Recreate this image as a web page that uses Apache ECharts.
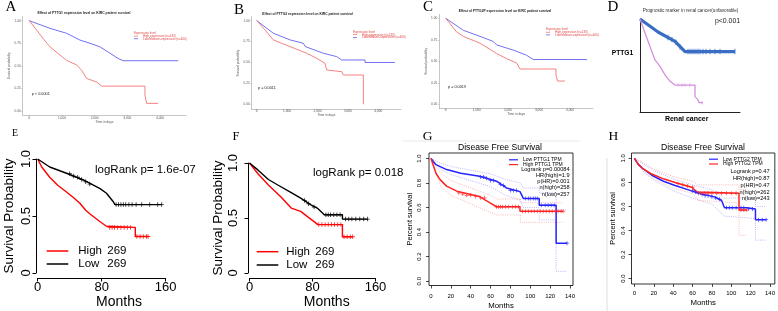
<!DOCTYPE html>
<html>
<head>
<meta charset="utf-8">
<script src="https://cdn.jsdelivr.net/npm/echarts@6/dist/echarts.min.js"></script>
<style>
  html, body { margin: 0; padding: 0; background: #fff; }
  #main { width: 778px; height: 311px; }
</style>
</head>
<body>
<div id="main"></div>
<script>
// ---- data ----
// A-C: days vs survival probability (UALCAN style)
const aLowMed = [[0,1],[633,0.915],[1144,0.86],[1550,0.785],[1856,0.75],[2162,0.71],[2468,0.64],[2722,0.58],[2875,0.556],[4557,0.556]];
const aHigh = [[0,1],[226,0.896],[428,0.80],[633,0.71],[939,0.62],[1144,0.56],[1450,0.51],[1602,0.45],[1755,0.36],[2061,0.32],[2214,0.275],[3538,0.275],[3538,0.176],[3590,0.176],[3590,0.084],[3945,0.084]];
const bLowMed = [[0,1],[547,0.85],[1096,0.77],[1535,0.73],[1600,0.69],[2193,0.61],[2632,0.57],[2796,0.53],[3564,0.53],[3564,0.50],[4549,0.50]];
const bHigh = [[0,1],[274,0.89],[547,0.77],[1096,0.69],[1645,0.61],[1974,0.55],[2247,0.49],[2303,0.41],[2796,0.39],[2850,0.35],[3509,0.35],[3509,0]];
const cLowMed = [[0,1],[566,0.86],[1103,0.79],[1531,0.73],[1640,0.69],[2174,0.63],[2603,0.57],[2817,0.52],[4546,0.52]];
const cHigh = [[0,1],[354,0.84],[566,0.79],[1103,0.71],[1640,0.59],[1961,0.53],[2282,0.48],[2389,0.41],[3547,0.41],[3547,0.34],[3600,0.34],[3600,0.27],[3836,0.27]];
const abcDayTicks = [0, 1000, 2000, 3000, 4000];
const abcSurvTicks = [0, 0.25, 0.5, 0.75, 1];

// D: prognostic marker (no axis scale shown)
const dLow = [[0,1],[18,0.86],[35,0.76],[45,0.65],[95,0.65]];
const dHigh = [[0,1],[5,0.85],[15,0.56],[20,0.49],[25,0.40],[30,0.33],[35,0.29],[55,0.29],[55,0.165],[58,0.13],[59,0.10],[63,0.10]];
const dLowCens = [[28,0.80],[32,0.78],[36,0.75],[40,0.70],[48,0.65],[50,0.65],[52,0.65],[54,0.65],[56,0.65],[58,0.65],[60,0.65],[63,0.65],[66,0.65],[70,0.65],[75,0.65],[80,0.65],[95,0.65]];
const dHighCens = [[38,0.29],[42,0.29],[45,0.29],[50,0.29],[62,0.10]];

// E, F: months vs survival probability
const eHigh = [[0,1],[5,0.93],[15,0.84],[25,0.77],[36,0.71],[45,0.66],[53,0.61],[60,0.55],[65,0.52],[78,0.45],[86,0.41],[88,0.40],[122,0.40],[122,0.32],[138,0.32]];
const eLow = [[0,1],[15,0.93],[36,0.875],[57,0.816],[78,0.74],[86,0.70],[94.5,0.625],[96.6,0.60],[155,0.60]];
const eHighCens = [[90,0.4],[93,0.4],[96,0.4],[100,0.4],[104,0.4],[108,0.4],[112,0.4],[116,0.4],[124,0.32],[128,0.32],[132,0.32],[136,0.32],[138,0.32]];
const eLowCens = [[40,0.87],[45,0.85],[50,0.84],[55,0.82],[60,0.80],[65,0.78],[98,0.6],[101,0.6],[104,0.6],[107,0.6],[110,0.6],[114,0.6],[118,0.6],[123,0.6],[130,0.6],[140,0.6],[150,0.6],[155,0.6]];
const fHigh = [[0,1],[11,0.90],[24,0.80],[40,0.69],[53,0.59],[65,0.56],[74,0.51],[87,0.44],[118,0.44],[118,0.33],[131,0.33]];
const fLow = [[0,1],[11,0.935],[24,0.85],[36,0.80],[53,0.73],[65,0.68],[78,0.62],[86,0.59],[95,0.53],[118,0.53],[118,0.49],[150,0.49]];
const fHighCens = [[88,0.44],[92,0.44],[96,0.44],[100,0.44],[104,0.44],[108,0.44],[112,0.44],[116,0.44],[120,0.33],[124,0.33],[128,0.33],[131,0.33]];
const fLowCens = [[70,0.66],[75,0.63],[82,0.60],[97,0.53],[100,0.53],[103,0.53],[107,0.53],[111,0.53],[115,0.53],[122,0.49],[126,0.49],[130,0.49],[135,0.49],[140,0.49],[145,0.49],[150,0.49]];
const efMonthTicks = [0, 80, 160];
const efSurvTicks = [0, 0.5, 1];

// G, H: GEPIA disease free survival
const gLow = [[0,1],[5,0.95],[15.7,0.91],[30,0.88],[49,0.856],[66,0.815],[76,0.76],[89.6,0.73],[93,0.675],[109,0.675],[109,0.62],[126,0.62],[126,0.31],[137,0.31]];
const gHigh = [[0,1],[5,0.88],[9,0.83],[15.7,0.775],[26,0.734],[49,0.69],[59,0.64],[66,0.607],[89.6,0.607],[89.6,0.57],[133,0.57]];
const gLowUpper = [[0,1],[10,0.96],[20,0.935],[40,0.905],[60,0.875],[75,0.83],[90,0.80],[93,0.76],[109,0.76],[109,0.72],[126,0.72],[126,0.58],[137,0.58]];
const gLowLower = [[0,1],[10,0.91],[20,0.87],[40,0.82],[60,0.77],[75,0.70],[90,0.66],[93,0.60],[109,0.60],[109,0.50],[126,0.50],[126,0.08],[137,0.08]];
const gHighUpper = [[0,1],[10,0.88],[20,0.82],[40,0.76],[60,0.70],[66,0.67],[90,0.67],[90,0.64],[133,0.64]];
const gHighLower = [[0,1],[10,0.77],[20,0.70],[40,0.63],[60,0.56],[66,0.54],[90,0.54],[90,0.48],[133,0.48]];
const gLowCens = [[50,0.85],[53,0.85],[56,0.84],[60,0.82],[63,0.82],[70,0.79],[73,0.78],[80,0.74],[83,0.74],[86,0.74],[95,0.675],[98,0.675],[100,0.675],[103,0.675],[105,0.675],[107,0.675],[111,0.62],[115,0.62],[118,0.62],[121,0.62],[124,0.62],[137,0.31]];
const gHighCens = [[28,0.72],[32,0.71],[36,0.70],[40,0.70],[45,0.69],[50,0.68],[54,0.68],[66,0.607],[68,0.607],[70,0.607],[72,0.607],[75,0.607],[78,0.607],[82,0.607],[85,0.607],[88,0.607],[92,0.57],[95,0.57],[98,0.57],[101,0.57],[104,0.57],[107,0.57],[110,0.57],[113,0.57],[116,0.57],[119,0.57],[122,0.57],[125,0.57],[128,0.57],[131,0.57],[133,0.57]];
const hLow = [[0,1],[4,0.95],[8,0.92],[18,0.86],[30,0.81],[42,0.775],[59,0.73],[69,0.705],[83,0.68],[90,0.65],[93,0.59],[116,0.59],[125,0.58],[125,0.49],[136,0.49]];
const hHigh = [[0,1],[4,0.95],[8,0.92],[18,0.87],[30,0.83],[42,0.80],[59,0.76],[65,0.72],[66,0.71],[108,0.71],[108,0.57],[116,0.57]];
const hLowUpper = [[0,1],[10,0.95],[20,0.90],[40,0.83],[60,0.78],[80,0.74],[93,0.67],[125,0.67],[125,0.60],[136,0.60]];
const hLowLower = [[0,1],[10,0.88],[20,0.82],[40,0.73],[60,0.67],[80,0.62],[93,0.52],[125,0.50],[125,0.32],[136,0.32]];
const hHighUpper = [[0,1],[10,0.96],[20,0.91],[40,0.85],[60,0.81],[66,0.78],[108,0.78],[108,0.74],[116,0.74]];
const hHighLower = [[0,1],[10,0.89],[20,0.83],[40,0.75],[60,0.71],[66,0.65],[108,0.63],[108,0.36],[116,0.36]];
const hLowCens = [[60,0.73],[63,0.72],[66,0.71],[70,0.70],[73,0.69],[76,0.69],[80,0.68],[84,0.67],[88,0.66],[95,0.59],[98,0.59],[101,0.59],[105,0.59],[110,0.59],[113,0.59],[118,0.58],[122,0.58],[128,0.49],[132,0.49],[136,0.49]];
const hHighCens = [[45,0.79],[50,0.78],[55,0.77],[60,0.76],[68,0.71],[72,0.71],[76,0.71],[80,0.71],[85,0.71],[90,0.71],[95,0.71],[100,0.71],[105,0.71],[110,0.57],[113,0.57],[116,0.57]];
const ghMonthTicks = [0, 20, 40, 60, 80, 100, 120, 140];
const ghSurvTicks = [0, 0.2, 0.4, 0.6, 0.8, 1];
const gStats = ['Logrank p=0.00084', 'HR(high)=1.9', 'p(HR)=0.001', 'n(high)=258', 'n(low)=257'];
const hStats = ['Logrank p=0.47', 'HR(high)=0.87', 'p(HR)=0.47', 'n(high)=262', 'n(low)=243'];

const SANS = 'Liberation Sans, Arial, sans-serif';
const SERIF = 'Liberation Serif, Times New Roman, serif';
const PLUS = 'path://M4,0H6V4H10V6H6V10H4V6H0V4H4Z';

function txt(text, x, y, size, extra) {
  const o = extra || {};
  return {
    text, left: x, top: y, padding: 0,
    textAlign: o.align || 'center', textVerticalAlign: 'middle',
    textStyle: { fontSize: size, fontFamily: o.font || SANS, color: o.color || '#000',
      fontWeight: o.weight || 'normal', lineHeight: o.lh || size * 1.15 }
  };
}

// one legend row per entry so each can sit exactly where the figure has it
function leg(name, x, cy, w, lw, size, lh, color, rich) {
  const ts = { fontSize: size, color, fontFamily: SANS, lineHeight: lh };
  if (rich) ts.rich = rich;
  return { left: x, top: cy - lh / 2, padding: 0, icon: 'rect', itemWidth: w, itemHeight: lw,
    data: [name], textStyle: ts,
    formatter: rich ? (n => '{s|}{n|' + n.split('|')[1] + '}{c|269}') : (n => n.split('|')[1]) };
}

// ---- axes ----
function topX(gi, min, max, margin, gap) {
  return { gridIndex: gi, type: 'value', min, max,
    axisLine: { onZero: false, lineStyle: { color: '#a0a0a0', width: 0.6 } },
    axisTick: { customValues: abcDayTicks, length: 1.2, lineStyle: { color: '#a0a0a0', width: 0.5 } },
    axisLabel: { customValues: abcDayTicks, fontSize: 3.2, color: '#555', margin, fontFamily: SANS },
    splitLine: { show: false },
    name: 'Time in days', nameLocation: 'middle', nameGap: gap,
    nameTextStyle: { fontSize: 3.2, color: '#555', fontFamily: SANS } };
}
function topY(gi, min, gap) {
  return { gridIndex: gi, type: 'value', min, max: 1.045,
    axisLine: { onZero: false, lineStyle: { color: '#a0a0a0', width: 0.6 } },
    axisTick: { customValues: abcSurvTicks, length: 1.2, lineStyle: { color: '#a0a0a0', width: 0.5 } },
    axisLabel: { customValues: abcSurvTicks, fontSize: 3.2, color: '#555', margin: 2, fontFamily: SANS,
      formatter: v => v.toFixed(2) },
    splitLine: { show: false },
    name: 'Survival probability', nameLocation: 'middle', nameRotate: 90, nameGap: gap,
    nameTextStyle: { fontSize: 3.2, color: '#555', fontFamily: SANS } };
}
function efX(gi) {
  return { gridIndex: gi, type: 'value', min: 0, max: 160, offset: 5,
    axisLine: { onZero: false, lineStyle: { color: '#000', width: 1 } },
    axisTick: { customValues: efMonthTicks, length: 3.5, lineStyle: { color: '#000', width: 1 } },
    axisLabel: { customValues: efMonthTicks, fontSize: 13, color: '#000', margin: 2.5, fontFamily: SANS },
    splitLine: { show: false } };
}
function efY(gi, offset, margin, gap) {
  return { gridIndex: gi, type: 'value', min: 0, max: 1, offset,
    axisLine: { onZero: false, lineStyle: { color: '#000', width: 1 } },
    axisTick: { customValues: efSurvTicks, length: 3.5, lineStyle: { color: '#000', width: 1 } },
    axisLabel: { customValues: efSurvTicks, fontSize: 13, color: '#000', margin, rotate: 90, fontFamily: SANS,
      formatter: v => (v === 0 ? '0' : v.toFixed(1)) },
    splitLine: { show: false },
    name: 'Survival Probability', nameLocation: 'middle', nameRotate: 90, nameGap: gap,
    nameTextStyle: { fontSize: 13.5, color: '#000', fontFamily: SANS } };
}
function ghX(gi, min, max, margin, gap) {
  return { gridIndex: gi, type: 'value', min, max,
    axisLine: { show: false, onZero: false },
    axisTick: { customValues: ghMonthTicks, length: 3, lineStyle: { color: '#000', width: 0.7 } },
    axisLabel: { customValues: ghMonthTicks, fontSize: 6, color: '#000', margin, fontFamily: SANS },
    splitLine: { show: false },
    name: 'Months', nameLocation: 'middle', nameGap: gap,
    nameTextStyle: { fontSize: 7.8, color: '#000', fontFamily: SANS } };
}
function ghY(gi, min, max, margin, gap) {
  return { gridIndex: gi, type: 'value', min, max,
    axisLine: { show: false, onZero: false },
    axisTick: { customValues: ghSurvTicks, length: 3, lineStyle: { color: '#000', width: 0.7 } },
    axisLabel: { customValues: ghSurvTicks, fontSize: 6, color: '#000', margin, rotate: 90, fontFamily: SANS,
      formatter: v => v.toFixed(1) },
    splitLine: { show: false },
    name: 'Percent survival', nameLocation: 'middle', nameRotate: 90, nameGap: gap,
    nameTextStyle: { fontSize: 7.4, color: '#000', fontFamily: SANS } };
}

// ---- series ----
function curve(name, gi, data, color, width, dash) {
  return { name, type: 'line', xAxisIndex: gi, yAxisIndex: gi, data, symbol: 'none',
    silent: true, z: dash ? 2 : 3, itemStyle: { color },
    lineStyle: { color, width, type: dash ? [1, 1.2] : 'solid' } };
}
function marks(gi, data, color, size, symbol) {
  return { type: 'scatter', xAxisIndex: gi, yAxisIndex: gi, data, silent: true, z: 4,
    symbol: symbol || PLUS, symbolSize: size, itemStyle: { color } };
}

const A_BLUE = '#4c4cf0', A_RED = '#f26262', LEG_RED = '#e04848';
const efRich = w => ({ s: { width: w, lineHeight: 12 }, n: { width: 29, fontSize: 11.5, fontFamily: SANS, lineHeight: 12 },
  c: { fontSize: 11.5, fontFamily: SANS, lineHeight: 12 } });

const option = {
  animation: false,
  backgroundColor: '#fff',
  grid: [
    { left: 22.7, top: 16.6, width: 163.3, height: 98.4 },          // A
    { left: 251.7, top: 16.9, width: 149.3, height: 92.4 },         // B
    { left: 439.3, top: 14.4, width: 153.7, height: 93.9 },         // C
    { left: 640, top: 19, width: 100, height: 93 },                 // D
    { left: 37.7, top: 159, width: 128, height: 114 },              // E
    { left: 249.5, top: 163, width: 126, height: 110 },             // F
    { show: true, left: 429, top: 153, width: 144, height: 133, borderColor: '#000', borderWidth: 0.8 },   // G
    { show: true, left: 631.5, top: 153, width: 143.5, height: 131, borderColor: '#000', borderWidth: 0.8 } // H
  ],
  xAxis: [
    topX(0, -200, 4794, 1.5, 3.5),
    topX(1, -164, 4747, 0.6, 2.6),
    topX(2, -206, 4739, 0.8, 2.8),
    { gridIndex: 3, type: 'value', min: 0, max: 100,
      axisLine: { onZero: false, lineStyle: { color: '#222', width: 1 } },
      axisTick: { show: false }, axisLabel: { show: false }, splitLine: { show: false } },
    efX(4),
    efX(5),
    ghX(6, -2, 143, 7.5, 16.5),
    ghX(7, -3, 145, 6, 14.5)
  ],
  yAxis: [
    topY(0, -0.045, 7),
    topY(1, -0.06, 6.8),
    topY(2, -0.047, 6),
    { gridIndex: 3, type: 'value', min: 0, max: 1,
      axisLine: { onZero: false, lineStyle: { color: '#222', width: 1 } },
      axisTick: { show: false }, axisLabel: { show: false }, splitLine: { show: false } },
    efY(4, 1.7, 3, 19.3),
    efY(5, 1.5, 8.5, 21),
    ghY(6, -0.035, 1.045, 6.5, 16),
    ghY(7, -0.045, 1.045, 5, 14.8)
  ],
  legend: [
    leg('A|High expression (n=133)', 134, 36, 4, 0.7, 3, 2.8, LEG_RED),
    leg('A|Low/Medium-expression (n=400)', 134, 38.7, 4, 0.7, 3, 2.8, LEG_RED),
    leg('B|High expression (n=133)', 353, 34.6, 4, 0.7, 3, 2.8, LEG_RED),
    leg('B|Low/Medium-expression (n=400)', 353, 37.3, 4, 0.7, 3, 2.8, LEG_RED),
    leg('C|High expression (n=133)', 546, 32.1, 4, 0.7, 3, 2.8, LEG_RED),
    leg('C|Low/Medium-expression (n=400)', 546, 34.8, 4, 0.7, 3, 2.8, LEG_RED),
    leg('E|High', 46.7, 251, 21.6, 1.5, 11.5, 12, '#000', efRich(5)),
    leg('E|Low', 46.7, 264, 21.6, 1.5, 11.5, 12, '#000', efRich(5)),
    leg('F|High', 256.7, 251.7, 21.6, 1.5, 11.5, 12, '#000', efRich(3)),
    leg('F|Low', 256.7, 265, 21.6, 1.5, 11.5, 12, '#000', efRich(3)),
    leg('G|Low PTTG1 TPM', 509, 159.6, 9, 1.2, 5, 4.6, '#000'),
    leg('G|High PTTG1 TPM', 509, 164.4, 9, 1.2, 5, 4.6, '#000'),
    leg('H|Low PTTG2 TPM', 709, 159, 9, 1.2, 5, 4.6, '#000'),
    leg('H|High PTTG2 TPM', 709, 163.8, 9, 1.2, 5, 4.6, '#000')
  ],
  title: [
    // panel letters
    txt('A', 11, 7.5, 15, { font: SERIF }),
    txt('B', 239, 10.5, 15, { font: SERIF }),
    txt('C', 428, 7.5, 15, { font: SERIF }),
    txt('D', 613, 7.5, 15, { font: SERIF }),
    txt('E', 15, 133.5, 10, { font: SERIF }),
    txt('F', 236, 136.5, 12.5, { font: SERIF }),
    txt('G', 427.5, 136.5, 13.5, { font: SERIF }),
    txt('H', 613.3, 136.5, 13.5, { font: SERIF }),
    // A-C
    txt('Effect of PTTG1 expression level on KIRC patient survival', 84, 13.5, 3.4, { weight: 'bold', color: '#222' }),
    txt('Effect of PTTG2 expression level on KIRC patient survival', 307.5, 14, 3.3, { weight: 'bold', color: '#222' }),
    txt('Effect of PTTG2P expression level on KIRC patient survival', 505, 11.3, 3.3, { weight: 'bold', color: '#222' }),
    txt('Expression level', 134, 33.3, 3, { align: 'left', color: LEG_RED }),
    txt('Expression level', 353, 32, 3, { align: 'left', color: LEG_RED }),
    txt('Expression level', 546, 29.5, 3, { align: 'left', color: LEG_RED }),
    txt('p < 0.0001', 31.7, 94, 3.8, { align: 'left', color: '#222' }),
    txt('p = 0.0011', 258, 88, 3.8, { align: 'left', color: '#222' }),
    txt('p = 0.0019', 448, 87, 3.8, { align: 'left', color: '#222' }),
    // D
    txt('Prognostic marker in renal cancer(unfavorable)', 690.5, 11, 4.6, { color: '#333' }),
    txt('p<0.001', 727.5, 21, 6.9, { color: '#222' }),
    txt('PTTG1', 622.5, 53.3, 6.7, { weight: 'bold' }),
    txt('Renal cancer', 686.7, 119.5, 7, { weight: 'bold' }),
    // E, F
    txt('logRank p= 1.6e-07', 95, 170, 11.5, { align: 'left' }),
    txt('logRank p= 0.018', 313, 173, 11.5, { align: 'left' }),
    txt('Months', 119, 302, 14),
    txt('Months', 326.7, 301.7, 14),
    // G, H
    txt('Disease Free Survival', 500, 148, 8.6),
    txt('Disease Free Survival', 703, 148, 8.6),
    txt(gStats.join('\n'), 569.5, 181.6, 5.6, { align: 'right', lh: 6.25 }),
    txt(hStats.join('\n'), 769.5, 185.3, 5.6, { align: 'right', lh: 6.8 })
  ],
  graphic: [
    { type: 'line', silent: true, shape: { x1: 403, y1: 141, x2: 580, y2: 141 }, style: { stroke: '#e4e4e4', lineWidth: 0.8 } },
    { type: 'line', silent: true, shape: { x1: 607, y1: 158, x2: 607, y2: 311 }, style: { stroke: '#d4d4d4', lineWidth: 0.8 } }
  ],
  series: [
    curve('A|Low/Medium-expression (n=400)', 0, aLowMed, A_BLUE, 0.8),
    curve('A|High expression (n=133)', 0, aHigh, A_RED, 0.8),
    curve('B|Low/Medium-expression (n=400)', 1, bLowMed, A_BLUE, 0.8),
    curve('B|High expression (n=133)', 1, bHigh, A_RED, 0.8),
    curve('C|Low/Medium-expression (n=400)', 2, cLowMed, A_BLUE, 0.8),
    curve('C|High expression (n=133)', 2, cHigh, A_RED, 0.8),

    curve('D|Low', 3, dLow, '#3a6ec4', 3.2),
    curve('D|High', 3, dHigh, '#d88fe0', 1.3),
    marks(3, dLowCens, '#3a6ec4', [1, 5.5], 'rect'),
    marks(3, dHighCens, '#d88fe0', [0.8, 3.5], 'rect'),

    curve('E|High', 4, eHigh, '#ff0000', 1.4),
    curve('E|Low', 4, eLow, '#000000', 1.4),
    marks(4, eHighCens, '#ff0000', 4.5),
    marks(4, eLowCens, '#000000', 4.5),

    curve('F|High', 5, fHigh, '#ff0000', 1.4),
    curve('F|Low', 5, fLow, '#000000', 1.4),
    marks(5, fHighCens, '#ff0000', 4.5),
    marks(5, fLowCens, '#000000', 4.5),

    curve('g-lu', 6, gLowUpper, '#9a9aff', 0.7, true),
    curve('g-ll', 6, gLowLower, '#9a9aff', 0.7, true),
    curve('g-hu', 6, gHighUpper, '#ff9a9a', 0.7, true),
    curve('g-hl', 6, gHighLower, '#ff9a9a', 0.7, true),
    curve('G|Low PTTG1 TPM', 6, gLow, '#2424ff', 1.5),
    curve('G|High PTTG1 TPM', 6, gHigh, '#ff2424', 1.5),
    marks(6, gLowCens, '#2424ff', 4),
    marks(6, gHighCens, '#ff2424', 4),

    curve('h-lu', 7, hLowUpper, '#9a9aff', 0.7, true),
    curve('h-ll', 7, hLowLower, '#9a9aff', 0.7, true),
    curve('h-hu', 7, hHighUpper, '#ff9a9a', 0.7, true),
    curve('h-hl', 7, hHighLower, '#ff9a9a', 0.7, true),
    curve('H|Low PTTG2 TPM', 7, hLow, '#2424ff', 1.5),
    curve('H|High PTTG2 TPM', 7, hHigh, '#ff2424', 1.5),
    marks(7, hLowCens, '#2424ff', 4),
    marks(7, hHighCens, '#ff2424', 4)
  ]
};

const chart = echarts.init(document.getElementById('main'));
chart.setOption(option);
</script>
</body>
</html>
